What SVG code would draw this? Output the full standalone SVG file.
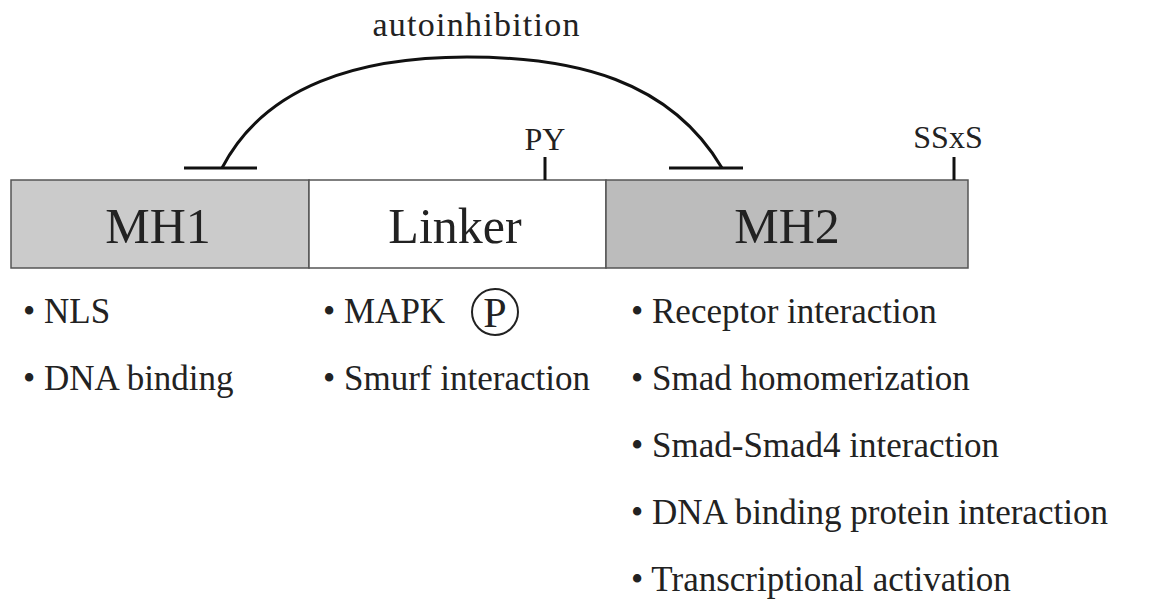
<svg xmlns="http://www.w3.org/2000/svg" width="1158" height="601" viewBox="0 0 1158 601">
<style>
text{font-family:"Liberation Serif","Times New Roman",serif;fill:#222}
.box{stroke:#555;stroke-width:1.5}
.lbl{font-size:50px;text-anchor:middle}
.bul{font-size:35px}
.site{font-size:32px;text-anchor:middle}
.line{stroke:#111;stroke-width:3;fill:none}
</style>
<rect width="1158" height="601" fill="#fff"/>
<g id="MH1"><rect class="box" x="11" y="180" width="298" height="88" fill="#cbcbcb"/><text class="lbl" x="158" y="243">MH1</text></g>
<g id="Linker"><rect class="box" x="309" y="180" width="297" height="88" fill="#fff"/><text class="lbl" x="455" y="243">Linker</text></g>
<g id="MH2"><rect class="box" x="606" y="180" width="362" height="88" fill="#bcbcbc"/><text class="lbl" x="787" y="243">MH2</text></g>
<g id="PY"><line class="line" x1="545" y1="157" x2="545" y2="180"/><text class="site" x="545" y="150">PY</text></g>
<g id="SSxS"><line class="line" x1="954" y1="157" x2="954" y2="180"/><text class="site" x="948" y="148">SSxS</text></g>
<g id="connectors">
<path class="line" d="M222,168 C265,85 360,57 467,57 C575,57 670,80 722,168"/>
<line class="line" x1="184" y1="168" x2="257" y2="168"/>
<line class="line" x1="669" y1="168" x2="743" y2="168"/>
</g>
<text x="476" y="36" font-size="34" text-anchor="middle" textLength="207" lengthAdjust="spacing">autoinhibition</text>
<g id="mh1-functions">
<text class="bul" x="23" y="323">• NLS</text>
<text class="bul" x="23" y="390">• DNA binding</text>
</g>
<g id="linker-functions">
<text class="bul" x="323" y="323">• MAPK</text>
<circle cx="495" cy="312" r="23" fill="none" stroke="#222" stroke-width="2"/>
<text x="495" y="327" font-size="42" text-anchor="middle">P</text>
<text class="bul" x="323" y="390">• Smurf interaction</text>
</g>
<g id="mh2-functions">
<text class="bul" x="631" y="323">• Receptor interaction</text>
<text class="bul" x="631" y="390">• Smad homomerization</text>
<text class="bul" x="631" y="457">• Smad-Smad4 interaction</text>
<text class="bul" x="631" y="524">• DNA binding protein interaction</text>
<text class="bul" x="631" y="591">• Transcriptional activation</text>
</g>
</svg>
